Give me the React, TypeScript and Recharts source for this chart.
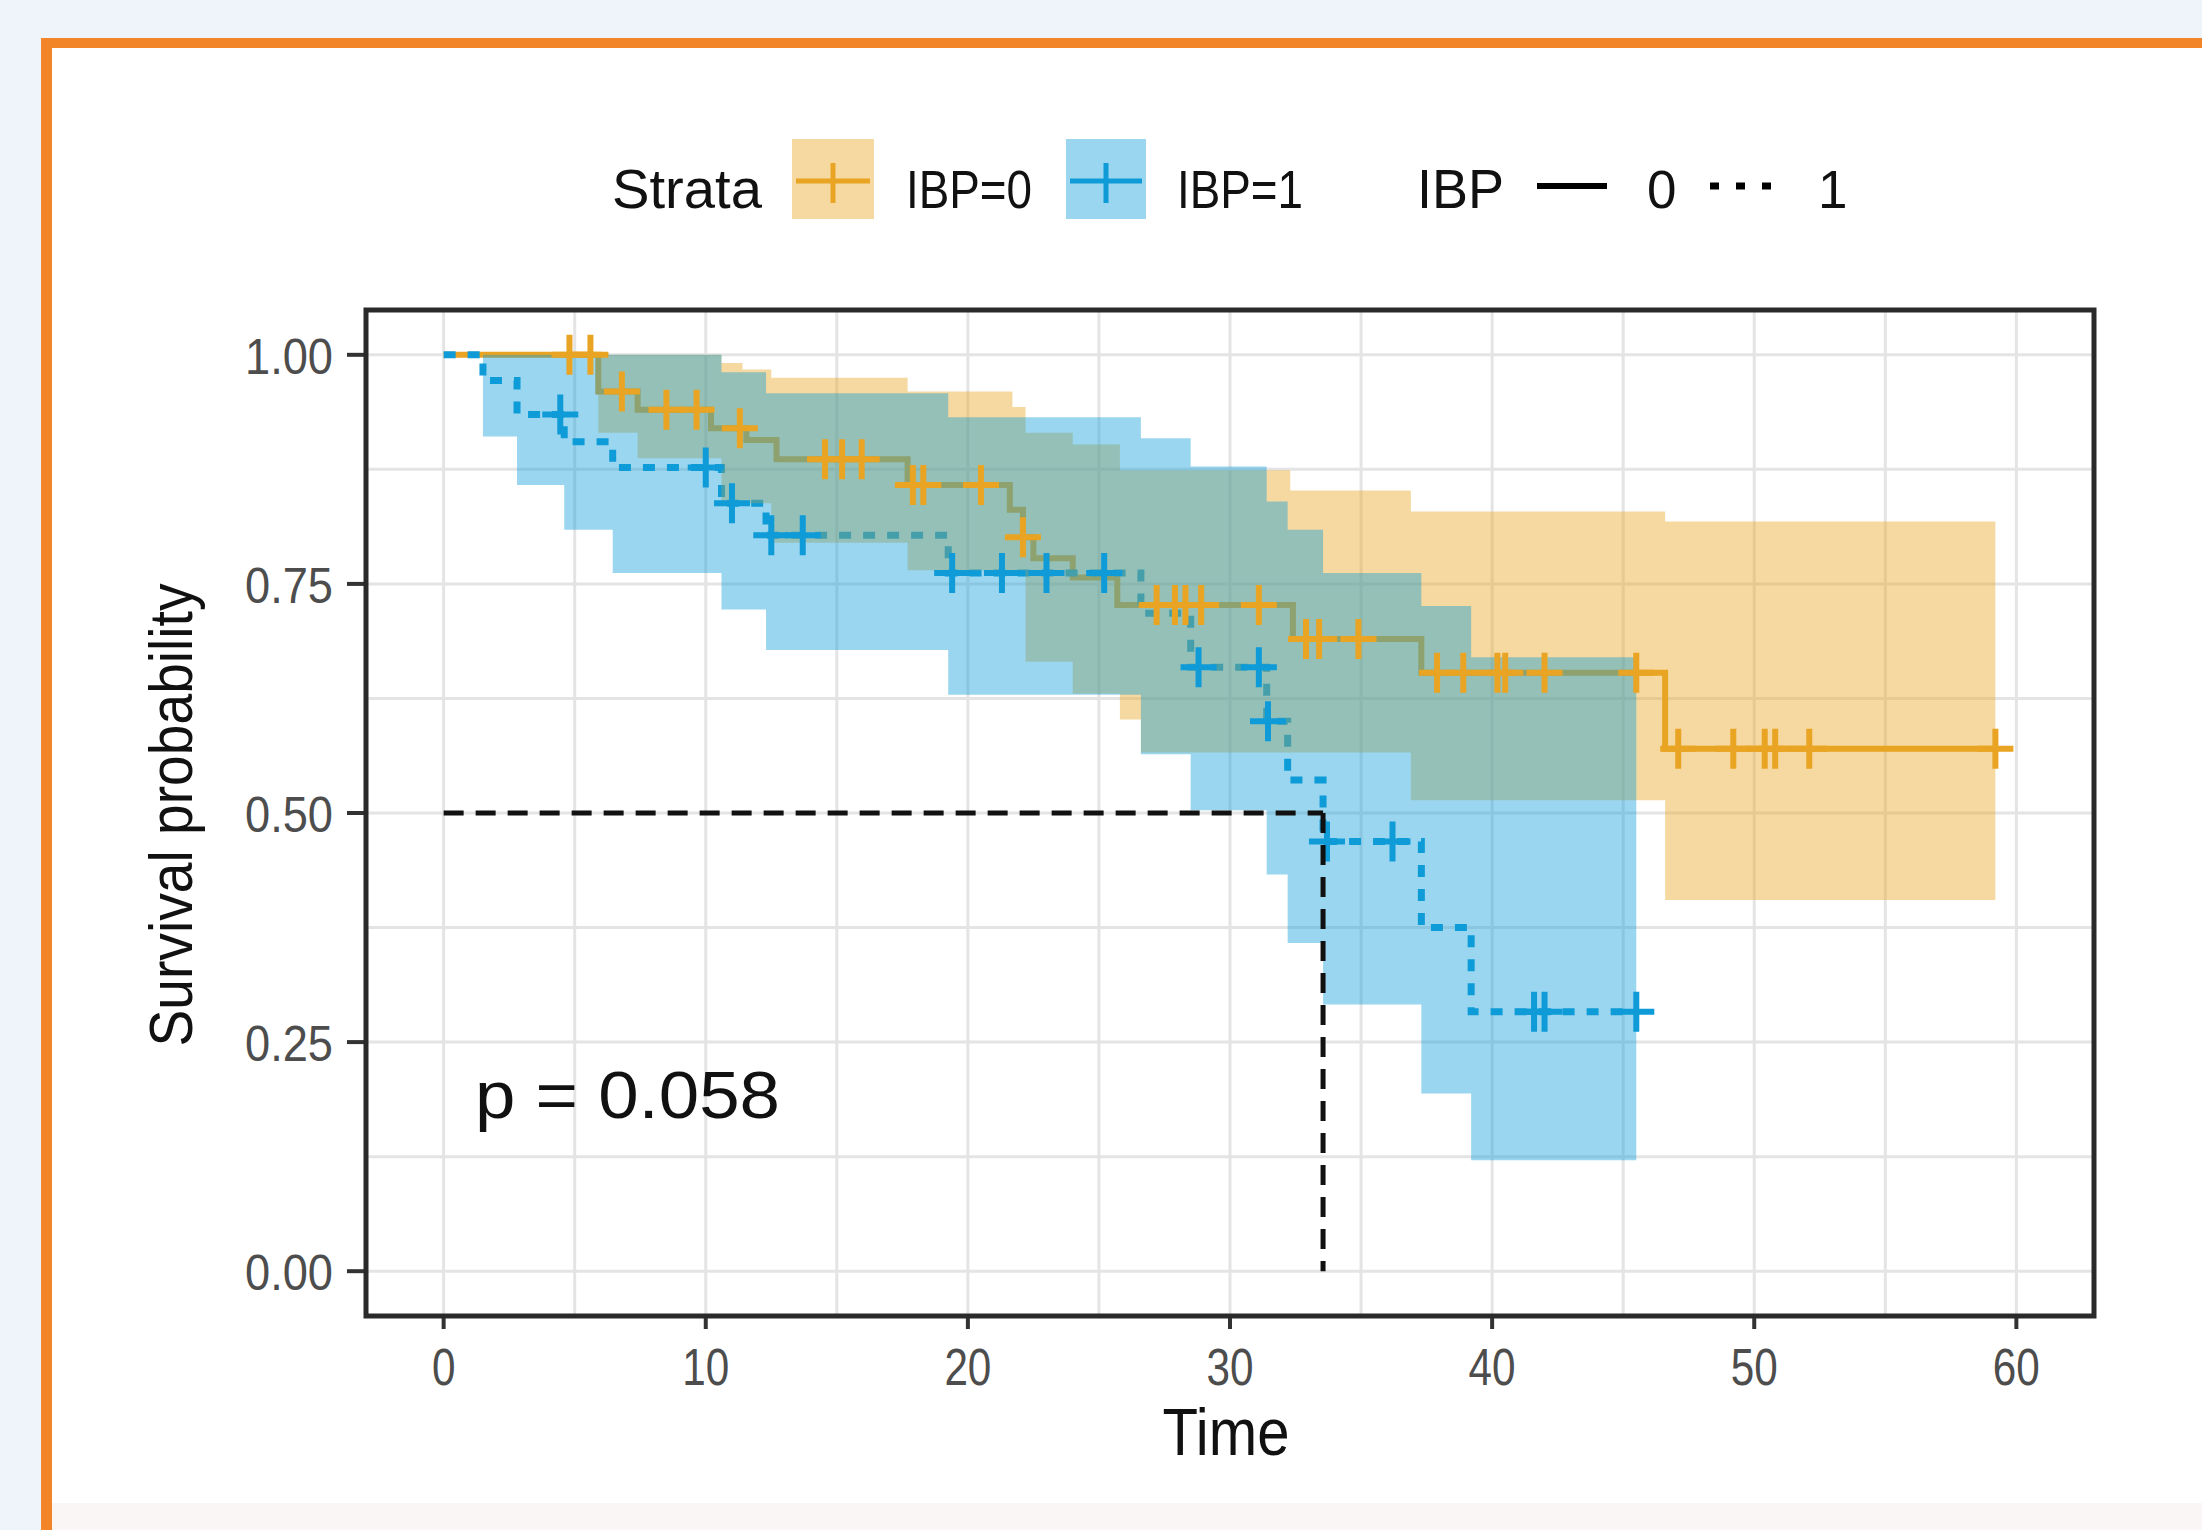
import React from 'react';
import {
  ComposedChart,
  XAxis,
  YAxis,
  CartesianGrid,
  Line,
  Area,
  Scatter,
  ReferenceLine
} from 'recharts';

// Kaplan-Meier curve, IBP = 0 (step after each time)
const ibp0Times = [0, 5.9, 7.4, 10.2, 11.55, 12.7, 17.7, 21.6, 22.1, 22.5, 24.0, 25.7, 32.4, 37.3, 46.6, 59.3];
const ibp0Surv = [1.0, 0.96, 0.94, 0.92, 0.907, 0.886, 0.858, 0.831, 0.801, 0.778, 0.757, 0.727, 0.69, 0.653, 0.57, 0.57];

// censored observations, IBP = 0
const ibp0CensorTimes = [4.8, 5.6, 6.8, 8.5, 9.65, 11.3, 14.55, 15.2, 15.95, 17.9, 18.3, 20.5, 22.1, 27.2, 27.9, 28.3, 28.9, 31.1, 32.9, 33.4, 34.9, 37.9, 38.9, 40.2, 40.5, 42.0, 45.5, 47.1, 49.2, 50.4, 50.8, 52.1, 59.2];
const ibp0CensorSurv = [1.0, 1.0, 0.96, 0.94, 0.94, 0.92, 0.886, 0.886, 0.886, 0.858, 0.858, 0.858, 0.801, 0.727, 0.727, 0.727, 0.727, 0.727, 0.69, 0.69, 0.69, 0.653, 0.653, 0.653, 0.653, 0.653, 0.653, 0.57, 0.57, 0.57, 0.57, 0.57, 0.57];

// 95% confidence band, IBP = 0
const ibp0BandTimes = [5.9, 7.4, 10.6, 11.4, 12.5, 17.7, 21.7, 22.2, 24.0, 25.8, 26.6, 32.3, 36.9, 46.6, 59.2];
const ibp0Lower = [0.915, 0.887, 0.838, 0.838, 0.795, 0.765, 0.765, 0.665, 0.63, 0.602, 0.566, 0.566, 0.514, 0.405, 0.405];
const ibp0Upper = [1.0, 1.0, 0.991, 0.984, 0.975, 0.96, 0.943, 0.915, 0.902, 0.874, 0.874, 0.852, 0.829, 0.818, 0.818];

// Kaplan-Meier curve, IBP = 1
const ibp1Times = [0, 1.5, 2.8, 4.6, 6.45, 10.6, 12.3, 19.25, 26.6, 28.5, 31.4, 32.2, 33.55, 37.3, 39.2, 45.6];
const ibp1Surv = [1.0, 0.972, 0.935, 0.905, 0.877, 0.838, 0.803, 0.762, 0.718, 0.659, 0.6, 0.536, 0.469, 0.375, 0.283, 0.283];

// censored observations, IBP = 1
const ibp1CensorTimes = [4.45, 10.0, 11.0, 12.5, 13.7, 19.4, 21.3, 23.0, 25.2, 28.8, 31.1, 31.45, 33.7, 36.2, 41.6, 42.0, 45.5];
const ibp1CensorSurv = [0.935, 0.877, 0.838, 0.803, 0.803, 0.762, 0.762, 0.762, 0.762, 0.659, 0.659, 0.6, 0.469, 0.469, 0.283, 0.283, 0.283];

// 95% confidence band, IBP = 1
const ibp1BandTimes = [1.5, 2.8, 4.6, 6.45, 10.6, 12.3, 19.25, 26.6, 28.5, 31.4, 32.2, 33.55, 37.3, 39.2, 45.5];
const ibp1Lower = [0.911, 0.858, 0.809, 0.762, 0.722, 0.678, 0.629, 0.564, 0.503, 0.433, 0.358, 0.291, 0.194, 0.121, 0.121];
const ibp1Upper = [1.0, 1.0, 1.0, 1.0, 0.981, 0.958, 0.932, 0.909, 0.878, 0.84, 0.809, 0.762, 0.726, 0.67, 0.67];

// median survival of IBP = 1
const medianTime = 33.55;
const medianSurv = 0.5;
const pValueLabel = 'p = 0.058';

// axes
const xTicks = [0, 10, 20, 30, 40, 50, 60];
const yTicks = [0, 0.25, 0.5, 0.75, 1.0];
const xGrid = [0, 5, 10, 15, 20, 25, 30, 35, 40, 45, 50, 55, 60];
const yGrid = [0, 0.125, 0.25, 0.375, 0.5, 0.625, 0.75, 0.875, 1.0];

const ORANGE = '#E9A423';
const BLUE = '#0E9BD8';
const ORANGE_FILL = '#E7A826';
const BLUE_FILL = '#0E9ED8';
const BAND_OPACITY = 0.43;
const NARROW = "'Liberation Sans Narrow', 'Liberation Sans', Arial, sans-serif";
const SANS = "'Liberation Sans', Arial, sans-serif";

const Y_AXIS_W = 200;
const X_AXIS_H = 120;

const toSteps = (times: number[], surv: number[]) => times.map((t, i) => ({ t, s: surv[i] }));
const toBand = (times: number[], lo: number[], hi: number[]) =>
  times.map((t, i) => ({ t, range: [lo[i], hi[i]] }));

const ibp0Curve = toSteps(ibp0Times, ibp0Surv);
const ibp1Curve = toSteps(ibp1Times, ibp1Surv);
const ibp0Censor = toSteps(ibp0CensorTimes, ibp0CensorSurv);
const ibp1Censor = toSteps(ibp1CensorTimes, ibp1CensorSurv);
const ibp0Band = toBand(ibp0BandTimes, ibp0Lower, ibp0Upper);
const ibp1Band = toBand(ibp1BandTimes, ibp1Lower, ibp1Upper);

const XTick = (props: any) => {
  const { x, y, payload } = props;
  const label = String(payload.value);
  return (
    <text x={x} y={y + 54} textAnchor="middle" fontFamily={NARROW} fontSize={52} fill="#4d4d4d"
      textLength={label.length * 23.5} lengthAdjust="spacingAndGlyphs">
      {label}
    </text>
  );
};

const YTick = (props: any) => {
  const { x, y, payload } = props;
  const label = Number(payload.value).toFixed(2);
  return (
    <text x={x - 12} y={y + 19} textAnchor="end" fontFamily={SANS} fontSize={50} fill="#4d4d4d"
      textLength={88} lengthAdjust="spacingAndGlyphs">
      {label}
    </text>
  );
};

const censorShape = (color: string) => (props: any) => {
  const { cx, cy } = props;
  if (cx == null || cy == null) return <g />;
  return (
    <path d={`M${cx - 18},${cy}H${cx + 18}M${cx},${cy - 20}V${cy + 20}`}
      stroke={color} strokeWidth={6} fill="none" />
  );
};

const App = () => {
  return (
    <div style={{ position: 'relative', width: 2202, height: 1530, overflow: 'hidden', background: '#eff3fa' }}>
      <style>{'html,body{margin:0;padding:0;overflow:hidden;}'}</style>
      {/* orange frame */}
      <div style={{ position: 'absolute', left: 41, top: 38, width: 2220, height: 1540, background: '#F28527' }} />
      <div style={{ position: 'absolute', left: 52, top: 48, width: 2200, height: 1455, background: '#ffffff' }} />
      <div style={{ position: 'absolute', left: 52, top: 1503, width: 2200, height: 40, background: '#faf6f5' }} />

      <div style={{ position: 'absolute', left: 0, top: 0 }}>
        <ComposedChart
          width={2202}
          height={1530}
          margin={{ top: 309, right: 107, left: 365 - Y_AXIS_W, bottom: 1530 - 1317 - X_AXIS_H }}
        >
          <CartesianGrid
            stroke="#e4e4e4"
            strokeWidth={3}
            verticalValues={xGrid}
            horizontalValues={yGrid}
          />
          <XAxis
            type="number"
            dataKey="t"
            domain={[-3, 63]}
            ticks={xTicks}
            allowDataOverflow
            height={X_AXIS_H}
            axisLine={false}
            tickSize={12}
            tickLine={{ stroke: '#333', strokeWidth: 4 }}
            tick={<XTick />}
          />
          <YAxis
            type="number"
            domain={[-0.05, 1.05]}
            ticks={yTicks}
            allowDataOverflow
            width={Y_AXIS_W}
            axisLine={false}
            tickSize={18}
            tickLine={{ stroke: '#333', strokeWidth: 4 }}
            tick={<YTick />}
          />
          <Line data={ibp0Curve} dataKey="s" type="stepAfter" stroke={ORANGE} strokeWidth={6}
            dot={false} isAnimationActive={false} zIndex={50} />
          <Line data={ibp1Curve} dataKey="s" type="stepAfter" stroke={BLUE} strokeWidth={7}
            strokeDasharray="12 12" dot={false} isAnimationActive={false} zIndex={50} />
          <Area data={ibp0Band} dataKey="range" type="stepAfter" stroke="none" fill={ORANGE_FILL}
            fillOpacity={BAND_OPACITY} isAnimationActive={false} zIndex={100} />
          <Area data={ibp1Band} dataKey="range" type="stepAfter" stroke="none" fill={BLUE_FILL}
            fillOpacity={0.42} isAnimationActive={false} zIndex={100} />
          <Scatter data={ibp0Censor} dataKey="s" shape={censorShape(ORANGE)} isAnimationActive={false} zIndex={600} />
          <Scatter data={ibp1Censor} dataKey="s" shape={censorShape(BLUE)} isAnimationActive={false} zIndex={600} />
          <ReferenceLine
            segment={[{ x: 0, y: medianSurv }, { x: medianTime, y: medianSurv }]}
            stroke="#111" strokeWidth={5} strokeDasharray="20 12" zIndex={700}
          />
          <ReferenceLine
            segment={[{ x: medianTime, y: medianSurv }, { x: medianTime, y: 0 }]}
            stroke="#111" strokeWidth={5} strokeDasharray="20 12" zIndex={700}
          />
        </ComposedChart>
      </div>

      {/* panel border, titles, legend, p-value */}
      <svg width={2202} height={1530} style={{ position: 'absolute', left: 0, top: 0, pointerEvents: 'none' }}>
        <rect x={366} y={310} width={1728} height={1006} fill="none" stroke="#2a2a2a" strokeWidth={5} />

        <text x={475} y={1118} fontFamily={SANS} fontSize={66} fill="#111" textLength={305} lengthAdjust="spacingAndGlyphs">
          {pValueLabel}
        </text>

        <text x={1226} y={1455} textAnchor="middle" fontFamily={NARROW} fontSize={66} fill="#111"
          textLength={127} lengthAdjust="spacingAndGlyphs">Time</text>
        <text x={192} y={815} textAnchor="middle" fontFamily={NARROW} fontSize={62} fill="#111"
          transform="rotate(-90 192 815)" textLength={463} lengthAdjust="spacingAndGlyphs">Survival probability</text>

        {/* legend: strata */}
        <text x={612} y={208} fontFamily={SANS} fontSize={56} fill="#111" textLength={150} lengthAdjust="spacingAndGlyphs">Strata</text>
        <rect x={792} y={139} width={82} height={80} fill={ORANGE_FILL} fillOpacity={BAND_OPACITY} />
        <line x1={796} x2={870} y1={181} y2={181} stroke={ORANGE} strokeWidth={5} />
        <line x1={833} x2={833} y1={163} y2={203} stroke={ORANGE} strokeWidth={5} />
        <text x={906} y={208} fontFamily={SANS} fontSize={53} fill="#111" textLength={126} lengthAdjust="spacingAndGlyphs">IBP=0</text>
        <rect x={1066} y={139} width={80} height={80} fill={BLUE_FILL} fillOpacity={0.42} />
        <line x1={1070} x2={1142} y1={181} y2={181} stroke={BLUE} strokeWidth={5} />
        <line x1={1106} x2={1106} y1={163} y2={203} stroke={BLUE} strokeWidth={5} />
        <text x={1177} y={208} fontFamily={SANS} fontSize={53} fill="#111" textLength={126} lengthAdjust="spacingAndGlyphs">IBP=1</text>

        {/* legend: line type */}
        <text x={1417} y={208} fontFamily={SANS} fontSize={56} fill="#111" textLength={87} lengthAdjust="spacingAndGlyphs">IBP</text>
        <line x1={1537} x2={1607} y1={186} y2={186} stroke="#000" strokeWidth={6} />
        <text x={1647} y={208} fontFamily={NARROW} fontSize={53} fill="#111">0</text>
        <line x1={1710} x2={1782} y1={186} y2={186} stroke="#000" strokeWidth={7} strokeDasharray="9 17" />
        <text x={1818} y={208} fontFamily={NARROW} fontSize={53} fill="#111">1</text>
      </svg>
    </div>
  );
};

export default App;
